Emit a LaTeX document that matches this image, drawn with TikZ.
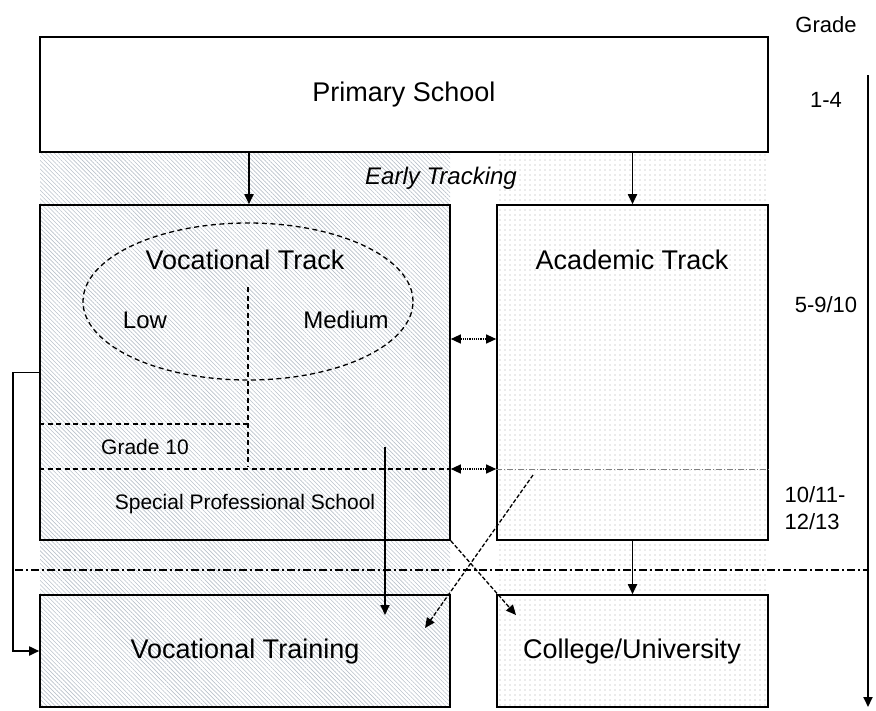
\documentclass[tikz,border=0pt]{standalone}
\usepackage{fontspec}
\setmainfont{Liberation Sans}
\usetikzlibrary{patterns.meta,arrows.meta,shapes.geometric}
\definecolor{hatchc}{RGB}{185,193,202}
\definecolor{dotc}{RGB}{170,170,170}
\begin{document}
\begin{tikzpicture}[x=1pt,y=-1pt,
  box/.style={draw, line width=1.6pt, rectangle, inner sep=0pt},
  big/.style={font=\fontsize{27}{32}\selectfont},
  mid/.style={font=\fontsize{24}{28}\selectfont},
  small/.style={font=\fontsize{21}{25}\selectfont},
  side/.style={font=\fontsize{22}{27}\selectfont},
  arr/.style={line width=1.8pt, -{Triangle[length=10pt,width=9pt]}},
  darr/.style={line width=1.2pt, densely dotted, {Triangle[length=10pt,width=9pt]}-{Triangle[length=10pt,width=9pt]}},
  dline/.style={line width=1.3pt, dash pattern=on 5pt off 3.5pt},
  diag/.style={line width=1.3pt, dash pattern=on 4pt off 2pt, -{Triangle[length=10pt,width=9pt]}},
  hatch/.style={pattern={Lines[angle=-45,distance=3pt,line width=0.6pt]}, pattern color=hatchc},
  dotfill/.style={pattern={Dots[distance=5pt,radius=0.6pt]}, pattern color=dotc}]
\useasboundingbox (0,0) rectangle (876,710);
% backgrounds
\fill[hatch] (40,152) rectangle (450,707);
\fill[dotfill] (497,152) rectangle (768,707);
% boxes
\node[box, fill=white, minimum width=728, minimum height=115, big] (prim) at (404,94.5) {Primary School};
\node[box, minimum width=410, minimum height=335] (voc) at (245,372.5) {};
\node[box, minimum width=271, minimum height=335] (acad) at (632.5,372.5) {};
\node[box, minimum width=410, minimum height=112] (vt) at (245,651) {};
\node[box, minimum width=271, minimum height=112] (col) at (632.5,651) {};
% labels
\node[font=\fontsize{24}{28}\selectfont\itshape] (early) at (441,178) {Early Tracking};
\node[big] (voclab) at (245,260) {Vocational Track};
\node[big] (acadlab) at (632,260) {Academic Track};
\node[mid] (low) at (145,320) {Low};
\node[mid] (medium) at (346,320) {Medium};
\node[small] (g10) at (145,447) {Grade 10};
\node[small] (sps) at (245,504) {Special Professional School};
\node[big] (vtlab) at (245,652) {Vocational Training};
\node[big] (collab) at (632,652) {College/University};
\node[side] (grade) at (826,25) {Grade};
\node[side] (g14) at (826,100) {1-4};
\node[side] (g59) at (826,305) {5-9/10};
\node[side, align=left] (g1013) at (815,508) {10/11-\\12/13};
% ellipse and internal lines
\node[ellipse, draw, dline, minimum width=330, minimum height=157] (ell) at (248,301.5) {};
\coordinate (vtop) at (248,287);
\coordinate (vbot) at (248,466);
\draw[dline] (vtop) -- (vbot);
\draw[dline] (voc.west |- 0,424) -- (vbot |- 0,424);
\draw[dline] (voc.west |- 0,469) -- (voc.east |- 0,469);
\draw[line width=0.7pt, dash pattern=on 6pt off 2pt on 1pt off 2pt, gray] (acad.west |- 0,469) -- (acad.east |- 0,469);
% connectors
\draw[arr] (prim.south -| 249,0) -- (voc.north -| 249,0);
\draw[arr] (prim.south -| acad.north) -- (acad.north);
\draw[darr] (voc.east |- 0,339) -- (acad.west |- 0,339);
\draw[darr] (voc.east |- 0,469) -- (acad.west |- 0,469);
\coordinate (vs) at (385,447);
\coordinate (ve) at (385,615);
\draw[arr] (vs) -- (ve);
\coordinate (as) at (533,475);
\coordinate (ae) at (425,628);
\draw[diag] (as) -- (ae);
\coordinate (ce) at (516,615);
\draw[diag] (voc.south east) -- (ce);
\draw[arr] (acad.south) -- (col.north);
\draw[arr] (voc.west) -- ++(-26,0) |- (vt.west);
% grade axis and separator
\coordinate (ga) at (868,75);
\coordinate (gb) at (868,707);
\draw[arr] (ga) -- (gb);
\coordinate (sl) at (15,570);
\coordinate (sr) at (868,570);
\draw[line width=1.2pt, dash pattern=on 8pt off 3pt on 2pt off 3pt] (sl) -- (sr);
\end{tikzpicture}
\end{document}
